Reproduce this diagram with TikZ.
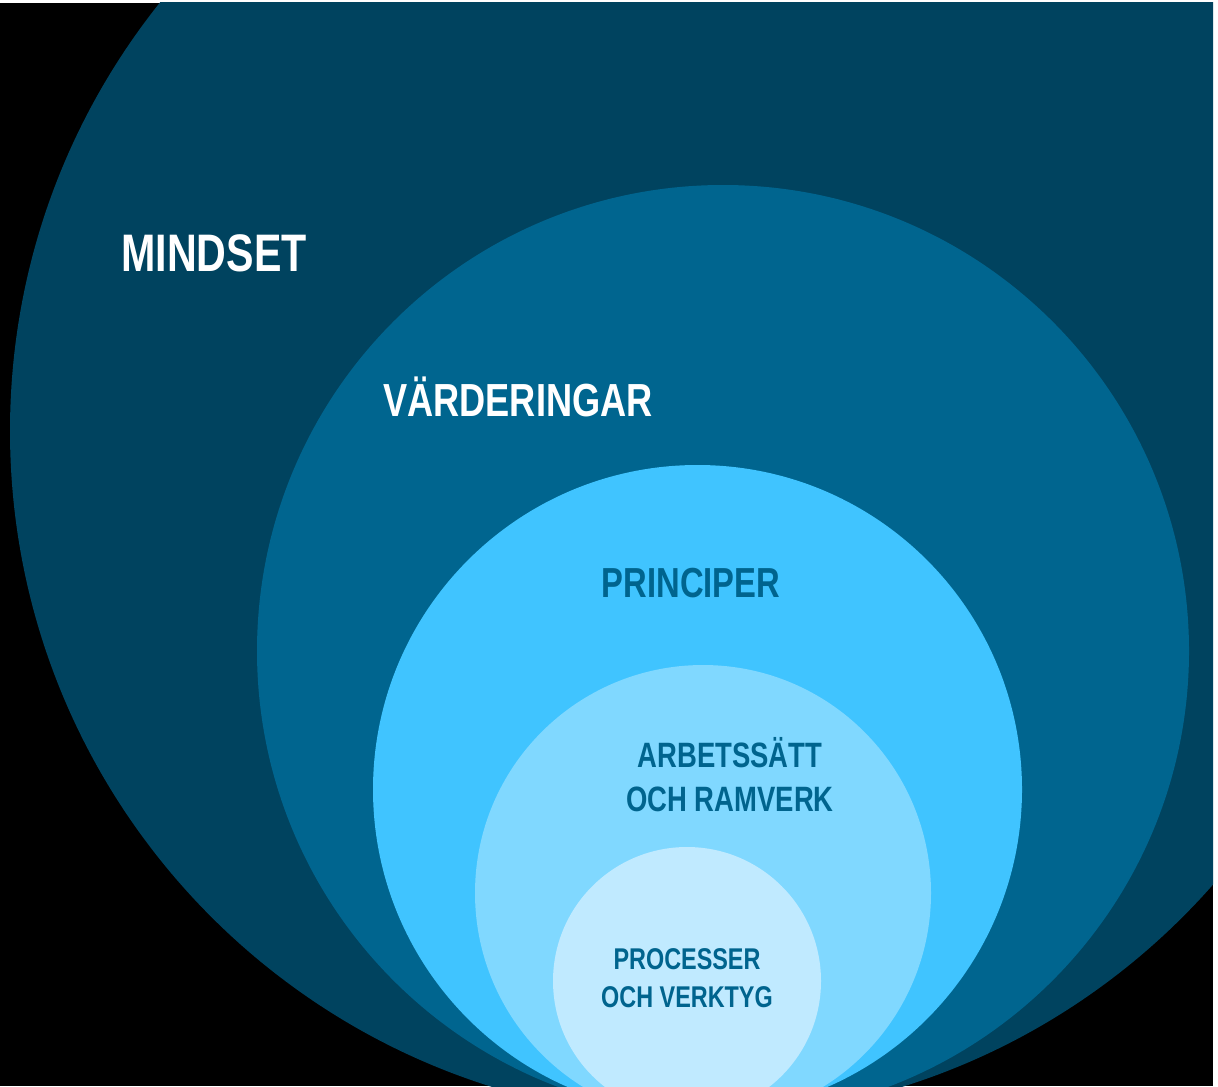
\documentclass[tikz,border=0pt]{standalone}
\usepackage{fontspec}
\setmainfont{Liberation Sans}[FakeStretch=0.78]
\definecolor{mindsetblue}{HTML}{00435F}
\definecolor{valueblue}{HTML}{00658F}
\definecolor{principleblue}{HTML}{40C4FF}
\definecolor{methodblue}{HTML}{80D8FF}
\definecolor{toolblue}{HTML}{C0EAFF}
\definecolor{labelblue}{HTML}{00648E}
\begin{document}
\begin{tikzpicture}[x=0.5pt,y=-0.5pt,
        ring/.style={circle,fill=#1,draw=none,inner sep=0pt},
        lbl/.style 2 args={font=\bfseries\fontsize{#1}{#2}\selectfont,inner sep=0pt,align=center}]
        \useasboundingbox (0,0) rectangle (1218,1086);
        \fill[black] (0,3) rectangle (1213,1086);

        \begin{scope}
        \clip (0,3) rectangle (1213,1086);
        \node[ring=mindsetblue,minimum size=687pt] (mindset) at (697,431) {};
        \node[ring=valueblue,minimum size=466pt] (values) at (723,651) {};
        \node[ring=principleblue,minimum size=324.5pt] (principles) at (697.5,789.5) {};
        \node[ring=methodblue,minimum size=228pt] (methods) at (703,893) {};
        \node[ring=toolblue,minimum size=134pt] (tools) at (687,981) {};
        \end{scope}

        \node[lbl={26.4}{32},white,anchor=base] (mindsetlbl) at (214,271) {MINDSET};
        \node[lbl={23.2}{28},white,anchor=base] (valueslbl) at (518,416) {VÄRDERINGAR};
        \node[lbl={21}{26},labelblue,anchor=base] (principleslbl) at (691,597) {PRINCIPER};
        \node[lbl={17.6}{22},labelblue] (methodslbl) at (730,775) {ARBETSSÄTT\\OCH RAMVERK};
        \node[lbl={15}{19},labelblue] (toolslbl) at (687,978) {PROCESSER\\OCH VERKTYG};
        \end{tikzpicture}
\end{document}
